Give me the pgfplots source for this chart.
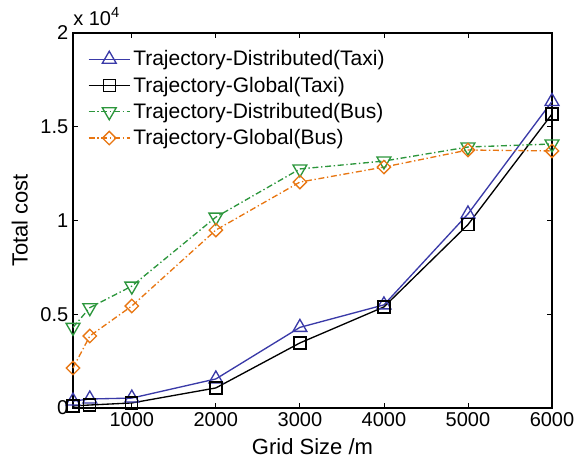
\documentclass[border=0pt]{standalone}
\usepackage{fontspec}
\setmainfont{Liberation Sans}
\usepackage{pgfplots}
\pgfplotsset{compat=1.18}

\definecolor{cblue}{RGB}{58,58,168}
\definecolor{cgreen}{RGB}{44,150,60}
\definecolor{corange}{RGB}{232,118,18}

\begin{document}
\begin{tikzpicture}
\useasboundingbox (-54.75pt,-42.75pt) rectangle (380.25pt,306pt);
\begin{axis}[
  at={(0,0)}, anchor=south west,
  scale only axis,
  width=359.25pt, height=281.25pt,
  xmin=300, xmax=6000, ymin=0, ymax=20000,
  xtick={1000,2000,...,6000},
  ytick={0,5000,...,20000},
  scaled x ticks=false,
  scaled y ticks=base 10:-4,
  every y tick scale label/.style={at={(rel axis cs:0,1)}, anchor=south west, inner sep=0pt, yshift=5pt, xshift=0pt},
  ytick scale label code/.code={\fontsize{15}{18}\selectfont x 10\raisebox{0.75ex}{\fontsize{11}{11}\selectfont 4}},
  /pgf/number format/1000 sep={},
  /pgf/number format/assume math mode=true,
  tick align=inside,
  tick pos=both,
  major tick length=4pt,
  axis line style={line width=0.8pt},
  every tick/.style={line width=0.6pt, black},
  ticklabel style={font=\fontsize{15}{18}\selectfont},
  xlabel={Grid Size /m},
  ylabel={Total cost},
  label style={font=\fontsize{16.5}{20}\selectfont},
  xlabel style={at={(axis description cs:0.5,-0.103)}, anchor=center},
  ylabel style={at={(axis description cs:-0.111,0.5)}, anchor=center},
  clip=false,
  every axis plot/.append style={line width=1pt},
  legend style={draw=none, fill=none, at={(rel axis cs:0,1)}, anchor=north west,
    xshift=8pt, yshift=-9pt,
    font=\fontsize{15.75}{19}\selectfont, row sep=2.8pt},
  legend cell align=left,
  legend image code/.code={
    \draw[mark repeat=2, mark phase=2, #1] plot coordinates {(0pt,0pt) (15.5pt,0pt) (31pt,0pt)};
  },
]
% taxi, distributed
\addplot[cblue, mark=triangle, mark size=6pt, mark options={solid, fill=white}]
  coordinates {(300,370) (500,480) (1000,530) (2000,1550) (3000,4300) (4000,5500) (5000,10350) (6000,16350)};
\addlegendentry{Trajectory-Distributed(Taxi)}
% taxi, global
\addplot[black, mark=square, mark size=4.5pt, mark options={solid, fill=white}]
  coordinates {(300,110) (500,160) (1000,270) (2000,1070) (3000,3470) (4000,5390) (5000,9780) (6000,15680)};
\addlegendentry{Trajectory-Global(Taxi)}
% bus, distributed
\addplot[cgreen, dash pattern=on 4.5pt off 2pt on 1pt off 2pt, mark=triangle, mark size=6pt, mark options={solid, fill=white, rotate=180}]
  coordinates {(300,4300) (500,5350) (1000,6500) (2000,10180) (3000,12750) (4000,13170) (5000,13920) (6000,14080)};
\addlegendentry{Trajectory-Distributed(Bus)}
% bus, global
\addplot[corange, dash pattern=on 4.5pt off 2pt on 1pt off 2pt, mark=diamond, mark size=5pt, mark options={solid, fill=white, xscale=1.33}]
  coordinates {(300,2130) (500,3840) (1000,5440) (2000,9490) (3000,12050) (4000,12850) (5000,13760) (6000,13710)};
\addlegendentry{Trajectory-Global(Bus)}
\end{axis}
\end{tikzpicture}
\end{document}
